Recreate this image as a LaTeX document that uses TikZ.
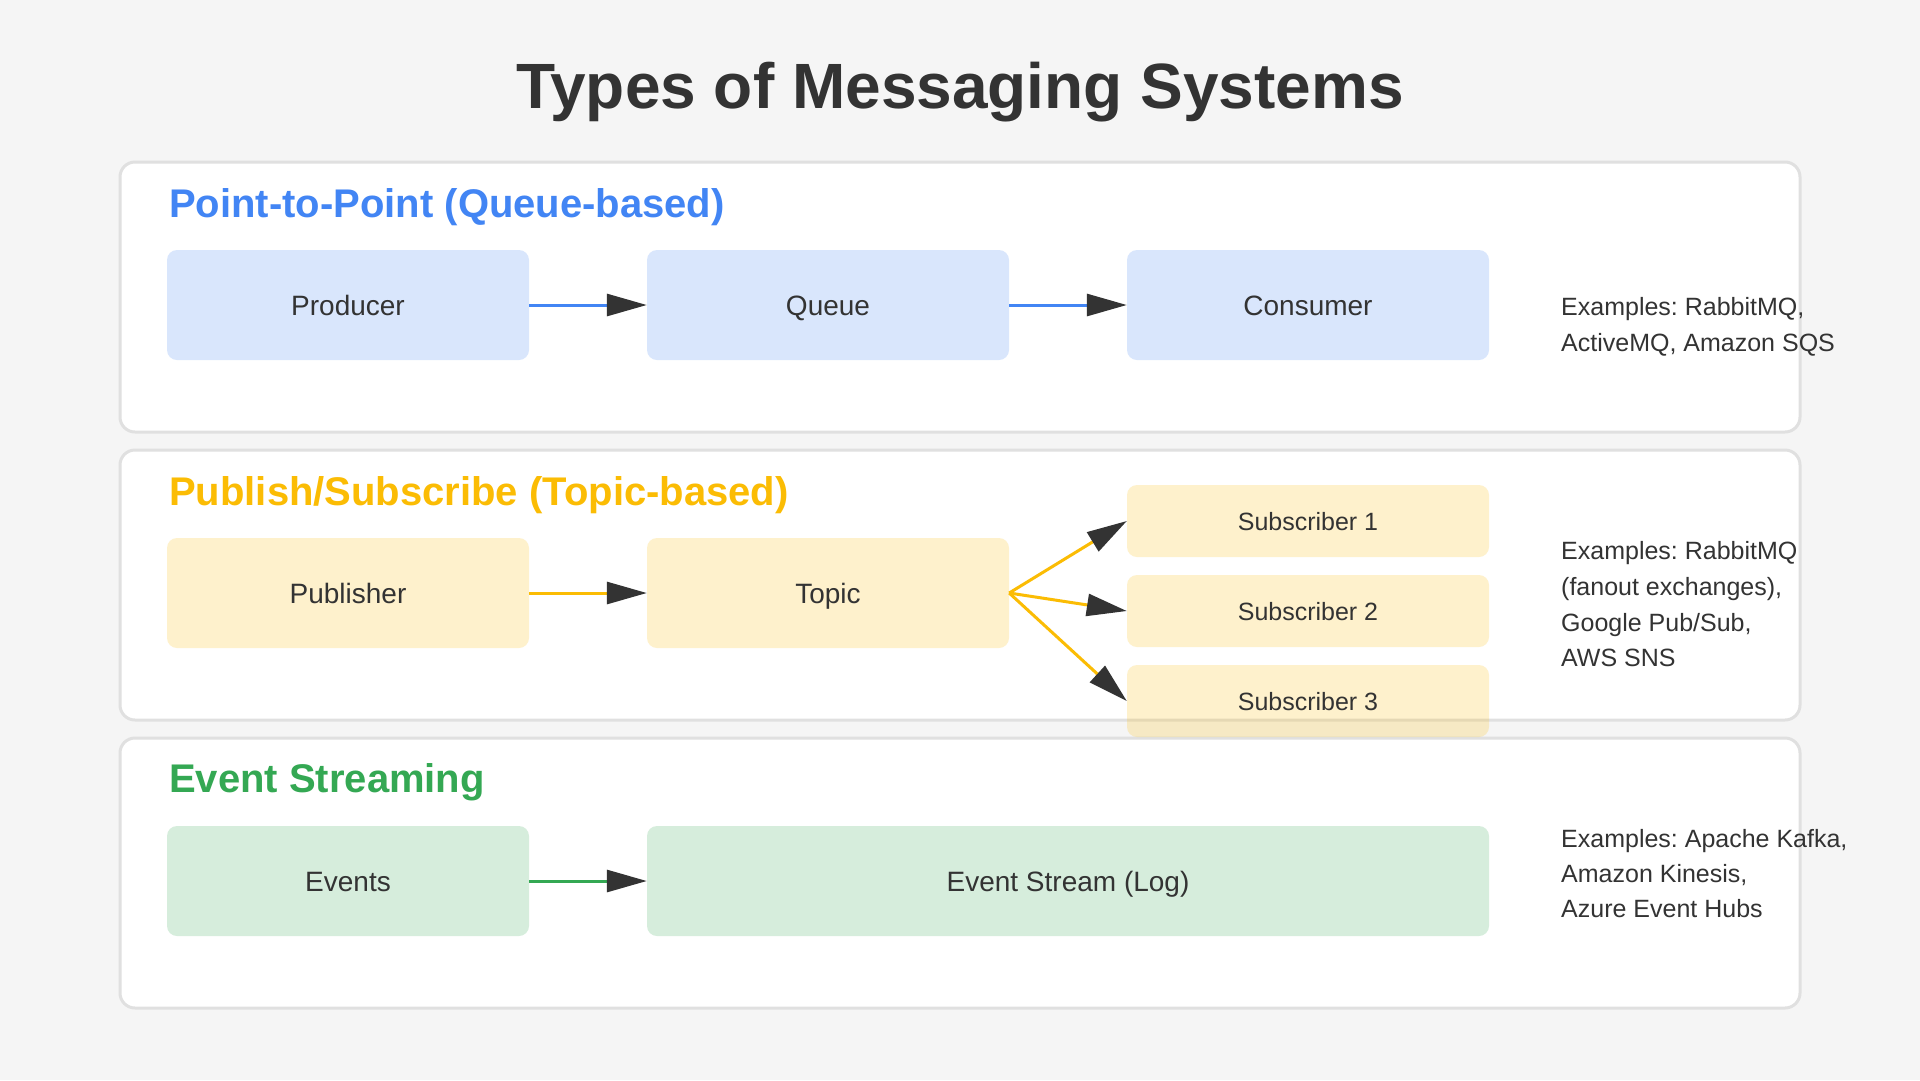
\documentclass[tikz,border=0pt]{standalone}
\usepackage{fontspec}
\setmainfont{Liberation Sans}
\usetikzlibrary{arrows.meta}
\definecolor{bgc}{HTML}{F5F5F5}
\definecolor{panelline}{HTML}{E0E0E0}
\definecolor{ink}{HTML}{333333}
\definecolor{gblue}{HTML}{4285F4}
\definecolor{gyellow}{HTML}{FBBC04}
\definecolor{ggreen}{HTML}{34A853}
\frenchspacing
\begin{document}
\begin{tikzpicture}[x=1pt,y=-1pt,
  panel/.style={draw=panelline, line width=3pt, fill=white, rounded corners=15pt},
  box/.style={rectangle, rounded corners=10pt, minimum width=362pt, minimum height=110pt,
    inner sep=0pt, text height=20pt, text depth=0pt, fill opacity=0.2, text opacity=1,
    text=ink, font=\fontsize{28}{34}\selectfont},
  subbox/.style={box, minimum height=72pt, text height=18pt, font=\fontsize{25}{30}\selectfont},
  sectitle/.style={anchor=base west, inner sep=0pt, font=\bfseries\fontsize{40}{48}\selectfont},
  example/.style={anchor=base west, inner sep=0pt, text=ink, font=\fontsize{25}{30}\selectfont},
  conn/.style={line width=3pt, -{Triangle[length=40pt,width=22pt,color=ink]}},
]
\fill[bgc] (0,0) rectangle (1920,1080);
\useasboundingbox (0,0) rectangle (1920,1080);

\node[anchor=base, inner sep=0pt, text=ink, font=\bfseries\fontsize{64}{72}\selectfont] (title) at (960,108) {Types of Messaging Systems};

% panels
\draw[panel] (120,162) rectangle (1800,432);
\draw[panel] (120,450) rectangle (1800,720);
\draw[panel] (120,738) rectangle (1800,1008);

% section 1
\node[sectitle, text=gblue] (t1) at (169,217) {Point-to-Point (Queue-based)};
\node[box, fill=gblue] (prod) at (348,305) {Producer};
\node[box, fill=gblue] (queue) at (828,305) {Queue};
\node[box, fill=gblue] (cons) at (1308,305) {Consumer};
\draw[conn, gblue] (prod.east) -- (queue.west);
\draw[conn, gblue] (queue.east) -- (cons.west);
\node[example] (e1a) at (1561,315) {Examples: RabbitMQ,};
\node[example] (e1b) at (1561,351) {ActiveMQ, Amazon SQS};

% section 2
\node[sectitle, text=gyellow] (t2) at (169,505) {Publish/Subscribe (Topic-based)};
\node[box, fill=gyellow] (pub) at (348,593) {Publisher};
\node[box, fill=gyellow] (topic) at (828,593) {Topic};
\node[subbox, fill=gyellow] (s1) at (1308,521) {Subscriber 1};
\node[subbox, fill=gyellow] (s2) at (1308,611) {Subscriber 2};
\node[subbox, fill=gyellow] (s3) at (1308,701) {Subscriber 3};
\draw[conn, gyellow] (pub.east) -- (topic.west);
\draw[conn, gyellow] (topic.east) -- (s1.west);
\draw[conn, gyellow] (topic.east) -- (s2.west);
\draw[conn, gyellow] (topic.east) -- (s3.west);
\node[example] (e2a) at (1561,559) {Examples: RabbitMQ};
\node[example] (e2b) at (1561,595) {(fanout exchanges),};
\node[example] (e2c) at (1561,631) {Google Pub/Sub,};
\node[example] (e2d) at (1561,666) {AWS SNS};

% section 3
\node[sectitle, text=ggreen] (t3) at (169,792) {Event Streaming};
\node[box, fill=ggreen] (events) at (348,881) {Events};
\node[box, fill=ggreen, minimum width=842pt] (stream) at (1068,881) {Event Stream (Log)};
\draw[conn, ggreen] (events.east) -- (stream.west);
\node[example] (e3a) at (1561,847) {Examples: Apache Kafka,};
\node[example] (e3b) at (1561,882) {Amazon Kinesis,};
\node[example] (e3c) at (1561,917) {Azure Event Hubs};
\end{tikzpicture}
\end{document}
